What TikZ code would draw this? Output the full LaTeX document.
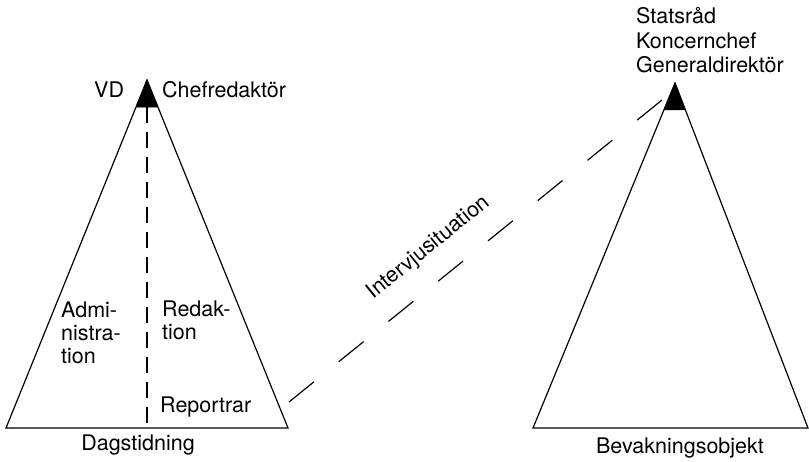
\documentclass[tikz,border=0pt]{standalone}
\usepackage{fontspec}
\setmainfont{TeX Gyre Heros}
\usetikzlibrary{calc}

\begin{document}
\begin{tikzpicture}[x=1pt,y=-1pt,
  tri/.style={line width=1.2pt,line join=miter},
  capfill/.style={fill=black,draw=black,line width=0.6pt},
  lbl/.style={inner sep=0pt,font=\fontsize{21.5}{23.5}\selectfont,align=left},
  divider/.style={line width=1.2pt,dash pattern=on 16pt off 9pt},
  contact/.style={line width=1.2pt,dash pattern=on 32pt off 32pt}]

\def\capfrac{0.078};

\useasboundingbox (0,0) rectangle (809,462);

% the two pyramids
\coordinate (lapex) at (147,80);
\coordinate (lbl) at (6,428);
\coordinate (lbr) at (288,428);
\coordinate (rapex) at (675,83);
\coordinate (rbl) at (533,428);
\coordinate (rbr) at (808,428);

\draw[tri] (lapex) -- (lbl) -- (lbr) -- cycle;
\draw[tri] (rapex) -- (rbl) -- (rbr) -- cycle;
\fill[capfill] (lapex) -- ($(lapex)!\capfrac!(lbl)$) -- ($(lapex)!\capfrac!(lbr)$) -- cycle;
\fill[capfill] (rapex) -- ($(rapex)!\capfrac!(rbl)$) -- ($(rapex)!\capfrac!(rbr)$) -- cycle;

% split of the newspaper
\coordinate (ltop) at ($(lapex)!\capfrac!(lapex|-lbl)$);
\coordinate (lbot) at (lapex|-lbl);
\draw[divider] (ltop) -- (lbot);

% interview line
\coordinate (istart) at (289,402);
\coordinate (iend) at (662,100);
\draw[contact] (istart) -- (iend);

% labels (base = last line)
\node[lbl,anchor=base west] (vd) at (94,98) {VD};
\node[lbl,anchor=base west] (chef) at (162,98) {Chefredaktör};
\node[lbl,anchor=base west] (adm) at (61,364) {Admi-\\nistra-\\tion};
\node[lbl,anchor=base west] (red) at (162,340) {Redak-\\tion};
\node[lbl,anchor=base west] (rep) at (160,413) {Reportrar};
\node[lbl,anchor=base] (dag) at (138,450) {Dagstidning};
\node[lbl,anchor=base west,font=\fontsize{21.5}{24.5}\selectfont] (top) at (636,73) {Statsråd\\Koncernchef\\Generaldirektör};
\node[lbl,anchor=base] (bev) at (680,453) {Bevakningsobjekt};
\node[lbl,anchor=base,rotate=39] (intv) at (432,252) {Intervjusituation};

\end{tikzpicture}
\end{document}
